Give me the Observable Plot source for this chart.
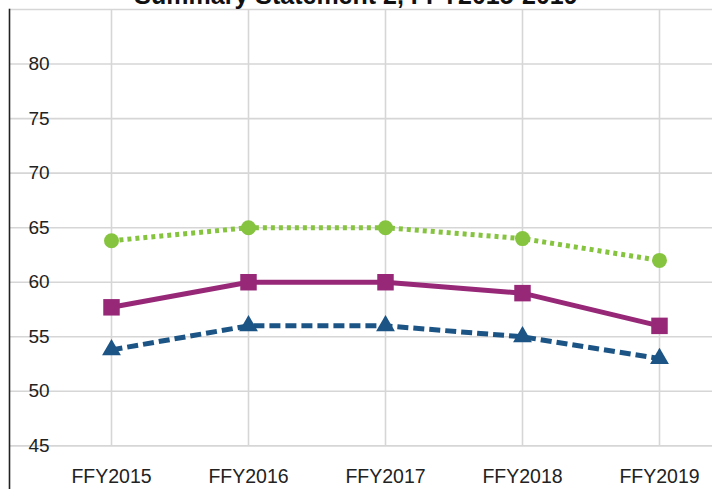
<!DOCTYPE html>
<html>
<head>
<meta charset="utf-8">
<script src="https://cdn.jsdelivr.net/npm/d3@7"></script>
<script src="https://cdn.jsdelivr.net/npm/@observablehq/plot@0.6"></script>
<style>
  html, body { margin: 0; padding: 0; overflow: hidden; background: #fff; }
  #wrap { position: relative; width: 712px; height: 489px; }
  #title { position: absolute; left: 0; top: -17px; width: 712px; text-align: center;
           font: bold 25px "Liberation Sans", Arial, sans-serif; color: #111; line-height: 25px; z-index: 2; }
</style>
</head>
<body>
<div id="wrap"><div id="title">Summary Statement 2, FFY2015-2019</div></div>
<script>
const years = ["FFY2015", "FFY2016", "FFY2017", "FFY2018", "FFY2019"];
const greenSeries = [63.8, 65, 65, 64, 62];
const purpleSeries = [57.7, 60, 60, 59, 56];
const blueSeries = [53.8, 56, 56, 55, 53];
const yTicks = [45, 50, 55, 60, 65, 70, 75, 80];

const green = years.map((y, i) => ({year: y, value: greenSeries[i]}));
const purple = years.map((y, i) => ({year: y, value: purpleSeries[i]}));
const blue = years.map((y, i) => ({year: y, value: blueSeries[i]}));

const font = "Liberation Sans, Arial, sans-serif";

const chart = Plot.plot({
  width: 712,
  height: 489,
  marginLeft: 9,
  marginRight: 0,
  marginTop: 9,
  marginBottom: 0,
  style: {fontFamily: font, background: "transparent"},
  x: {type: "point", domain: years, range: [110, 660], padding: 0, axis: null},
  y: {domain: [41, 85], axis: null},
  marks: [
    Plot.ruleY(yTicks, {stroke: "#d6d6d6", strokeWidth: 1.6}),
    Plot.ruleY([85], {stroke: "#d6d6d6", strokeWidth: 1.6}),
    Plot.ruleX(years, {y1: 45, y2: 85, stroke: "#d6d6d6", strokeWidth: 1.6}),
    Plot.frame({anchor: "left", stroke: "#222", strokeWidth: 1.6}),
    Plot.text(yTicks, {y: d => d, text: d => String(d), frameAnchor: "left", dx: 19, textAnchor: "start",
      fontSize: 19, fill: "#222"}),
    Plot.text(years, {x: d => d, y: 42.2, text: d => d, fontSize: 19.5, fill: "#222", textAnchor: "middle"}),
    Plot.line(green, {x: "year", y: "value", stroke: "#86c440", strokeWidth: 5, strokeDasharray: "4,4", strokeLinecap: "butt", strokeLinejoin: "miter"}),
    Plot.line(purple, {x: "year", y: "value", stroke: "#972878", strokeWidth: 5, strokeLinecap: "butt"}),
    Plot.line(blue, {x: "year", y: "value", stroke: "#1b5485", strokeWidth: 5, strokeDasharray: "11,5", strokeLinecap: "butt", strokeLinejoin: "miter"}),
    Plot.dot(green, {x: "year", y: "value", fill: "#86c440", r: 7.5, symbol: "circle"}),
    Plot.dot(purple, {x: "year", y: "value", fill: "#972878", r: 9.3, symbol: "square"}),
    Plot.dot(blue, {x: "year", y: "value", fill: "#1b5485", r: 7, symbol: "triangle"})
  ]
});
document.getElementById("wrap").appendChild(chart);
</script>
</body>
</html>
